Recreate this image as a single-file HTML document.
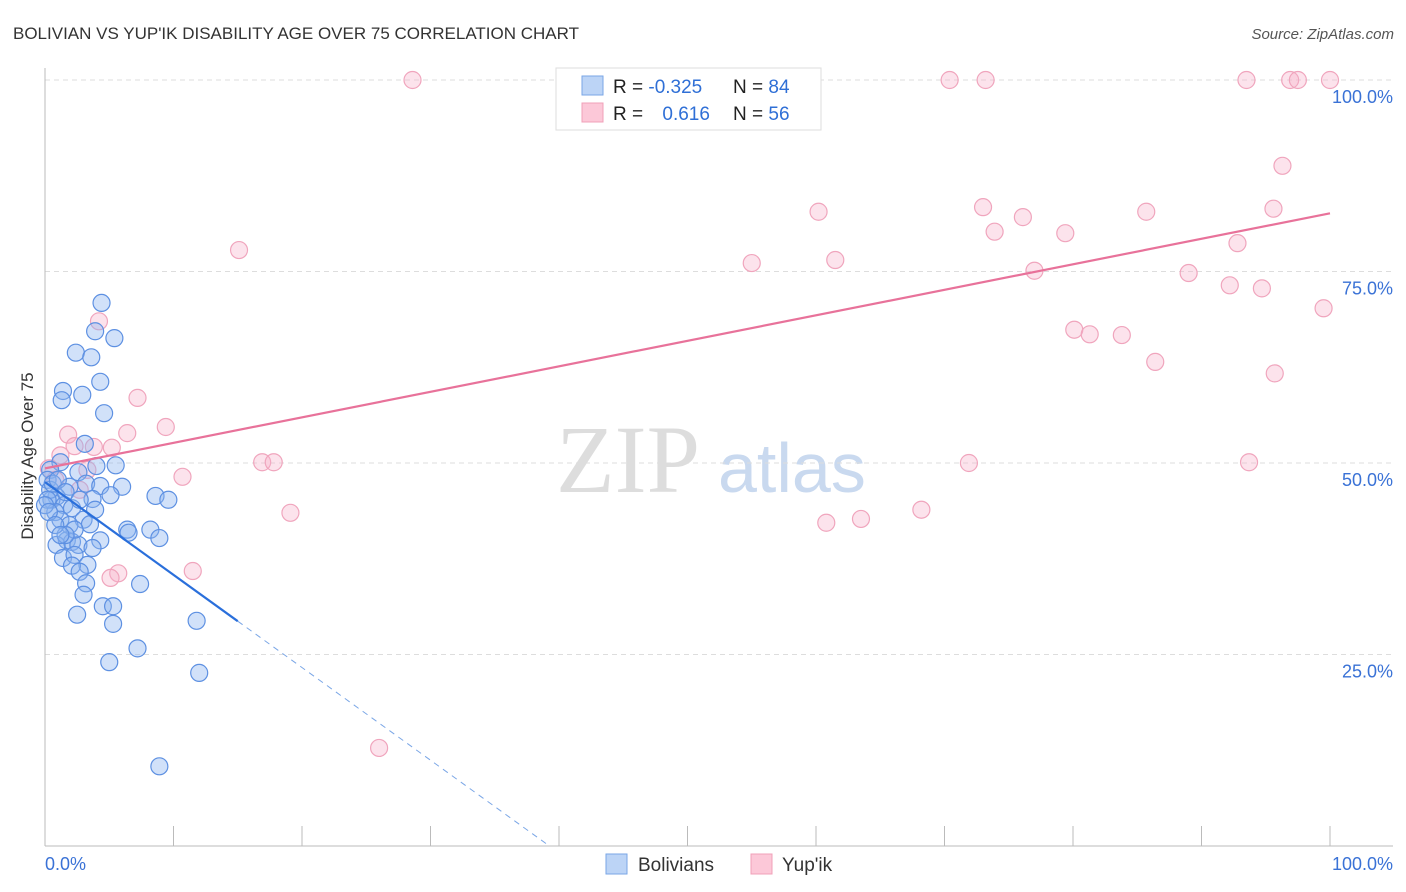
<!DOCTYPE html>
<html><head><meta charset="utf-8"><style>
body{margin:0;background:#fff;font-family:"Liberation Sans",sans-serif;}
svg{display:block}
</style></head><body>
<svg id="chart" width="1406" height="892">
<text x="13" y="39" font-size="17" fill="#333">BOLIVIAN VS YUP'IK DISABILITY AGE OVER 75 CORRELATION CHART</text>
<text x="1394" y="39" font-size="15" fill="#555" font-style="italic" text-anchor="end">Source: ZipAtlas.com</text>
<text x="0" y="0" transform="translate(33,456) rotate(-90)" font-size="17" fill="#333" text-anchor="middle">Disability Age Over 75</text>
<text x="556" y="492" font-size="96" fill="#ddd" font-family="Liberation Serif,serif">ZIP</text>
<text x="718" y="492" font-size="70" fill="#c9d9ef">atlas</text>
<g id="grid"></g><g id="axes"></g><g id="pink"></g><g id="blue"></g><g id="lines"></g>
<g>
<rect x="556" y="68" width="265" height="62" fill="#fff" stroke="#ddd"/>
<rect x="582" y="76" width="21" height="19" fill="#bcd4f6" stroke="#7aa6e6"/>
<rect x="582" y="103" width="21" height="19" fill="#fcc8d8" stroke="#f0a0b8"/>
<text x="613" y="93" font-size="19" fill="#222">R = <tspan fill="#2f6fd6">-0.325</tspan></text>
<text x="733" y="93" font-size="19" fill="#222">N = <tspan fill="#2f6fd6">84</tspan></text>
<text x="613" y="120" font-size="19" fill="#222">R = <tspan fill="#2f6fd6" dx="14">0.616</tspan></text>
<text x="733" y="120" font-size="19" fill="#222">N = <tspan fill="#2f6fd6">56</tspan></text>
</g>
<g>
<rect x="606" y="854" width="21" height="20" fill="#bcd4f6" stroke="#7aa6e6"/>
<text x="638" y="871" font-size="19" fill="#333">Bolivians</text>
<rect x="751" y="854" width="21" height="20" fill="#fcc8d8" stroke="#f0a0b8"/>
<text x="782" y="871" font-size="19" fill="#333">Yup'ik</text>
</g>
</svg>
<script>
const blueX=[4.4,5.4,3.9,2.4,3.6,4.3,1.4,1.3,2.9,4.6,3.1,1.2,5.5,4.0,2.6,0.4,6.0,1.9,3.2,4.3,0.9,3.7,8.6,9.6,0.5,1.5,2.1,0.8,3.0,1.2,3.5,6.4,8.2,6.5,8.9,4.3,1.7,2.1,0.9,2.6,3.7,1.4,2.3,3.3,2.1,2.7,7.4,3.2,3.0,4.5,5.3,2.5,11.8,5.3,7.2,5.0,12.0,8.9,0.2,0.4,0.2,0.6,1.0,1.6,0,0.3,1.9,2.3,1.6,3.9,5.1,0.8,1.2,2.7];
const blueY=[70.9,66.3,67.2,64.4,63.8,60.6,59.4,58.2,58.9,56.5,52.5,50.1,49.7,49.6,48.8,49.1,46.9,46.9,47.3,47.0,45.6,45.3,45.7,45.2,45.2,44.5,44.1,43.6,42.6,42.6,42.0,41.3,41.3,40.9,40.2,39.9,39.9,39.7,39.3,39.3,38.9,37.6,38.0,36.7,36.6,35.8,34.2,34.3,32.8,31.3,31.3,30.2,29.4,29.0,25.8,24.0,22.6,10.4,47.8,46.5,45.2,47.3,47.8,46.2,44.5,43.6,41.9,41.3,40.6,43.9,45.8,41.9,40.6,45.2];
const pinkX=[28.6,58.4,70.4,73.2,93.5,96.9,97.5,100,96.3,15.1,60.2,73.0,76.1,85.7,95.6,73.9,79.4,92.8,55.0,61.5,77.0,89.0,92.2,94.7,99.5,4.2,80.1,81.3,83.8,86.4,95.7,7.2,9.4,1.8,6.4,2.3,5.2,3.8,1.2,16.9,17.8,71.9,93.7,0.3,10.7,2.7,0.8,19.1,60.8,63.5,68.2,5.7,5.1,11.5,26.0,3.3];
const pinkY=[100,100,100,100,100,100,100,100,88.8,77.8,82.8,83.4,82.1,82.8,83.2,80.2,80.0,78.7,76.1,76.5,75.1,74.8,73.2,72.8,70.2,68.5,67.4,66.8,66.7,63.2,61.7,58.5,54.7,53.7,53.9,52.2,52.0,52.1,51.0,50.1,50.1,50.0,50.1,49.3,48.2,46.5,47.8,43.5,42.2,42.7,43.9,35.6,35.0,35.9,12.8,49.1];
const pinkTrend=[49.3,82.6];      // y at x=0 and x=100
const blueTrend=[47.5,-1.21,15];   // intercept, slope, solid end x
const yTicks=[25,50,75,100];
const sx=v=>45+v*12.85, sy=v=>846-v*7.66;
const NS='http://www.w3.org/2000/svg';
function mk(tag,attrs,parent){const e=document.createElementNS(NS,tag);for(const k in attrs)e.setAttribute(k,attrs[k]);parent.appendChild(e);return e;}
const grid=document.getElementById('grid');
yTicks.forEach(t=>{
 const l=mk('line',{x1:45,x2:1393,y1:sy(t),y2:sy(t),stroke:'#ddd','stroke-dasharray':'5,4'},grid);
 
 
 const tx=mk('text',{x:1393,y:sy(t)+23,'font-size':18,fill:'#3a72d6','text-anchor':'end'},grid);
 tx.textContent=t.toFixed(1)+'%';
 
 
});
const axes=document.getElementById('axes');
mk('line',{x1:45,x2:45,y1:68,y2:846,stroke:'#bbb'},axes);
mk('line',{x1:45,x2:1393,y1:846,y2:846,stroke:'#bbb'},axes);
for(let i=1;i<=10;i++){const tk=mk('line',{x1:sx(i*10),x2:sx(i*10),y1:826,y2:846,stroke:'#bbb'},axes);
 
 }
const x0=mk('text',{x:45,y:870,'font-size':18,fill:'#3a72d6'},axes);x0.textContent='0.0%';


const x1=mk('text',{x:1393,y:870,'font-size':18,fill:'#3a72d6','text-anchor':'end'},axes);x1.textContent='100.0%';


const pg=document.getElementById('pink');
pinkX.forEach((x,i)=>{const c=mk('circle',{cx:sx(x),cy:sy(pinkY[i]),r:8.5,fill:'rgba(247,175,200,0.35)',stroke:'#f0a5bd','stroke-width':1.2},pg);
 
 });
const bg=document.getElementById('blue');
blueX.forEach((x,i)=>{const c=mk('circle',{cx:sx(x),cy:sy(blueY[i]),r:8.5,fill:'rgba(140,180,240,0.4)',stroke:'#5d90e2','stroke-width':1.2},bg);
 
 });
const lg=document.getElementById('lines');
const pl=mk('line',{x1:sx(0),y1:sy(pinkTrend[0]),x2:sx(100),y2:sy(pinkTrend[1]),stroke:'#e8729a','stroke-width':2.2},lg);


const bEnd=blueTrend[0]+blueTrend[1]*blueTrend[2];
const bl=mk('line',{x1:sx(0),y1:sy(blueTrend[0]),x2:sx(blueTrend[2]),y2:sy(bEnd),stroke:'#2a6fdb','stroke-width':2.2},lg);


const zx=-blueTrend[0]/blueTrend[1];
const bd=mk('line',{x1:sx(blueTrend[2]),y1:sy(bEnd),x2:sx(zx),y2:sy(0),stroke:'#7aa6e6','stroke-width':1,'stroke-dasharray':'6,5'},lg);


</script>
</body></html>
